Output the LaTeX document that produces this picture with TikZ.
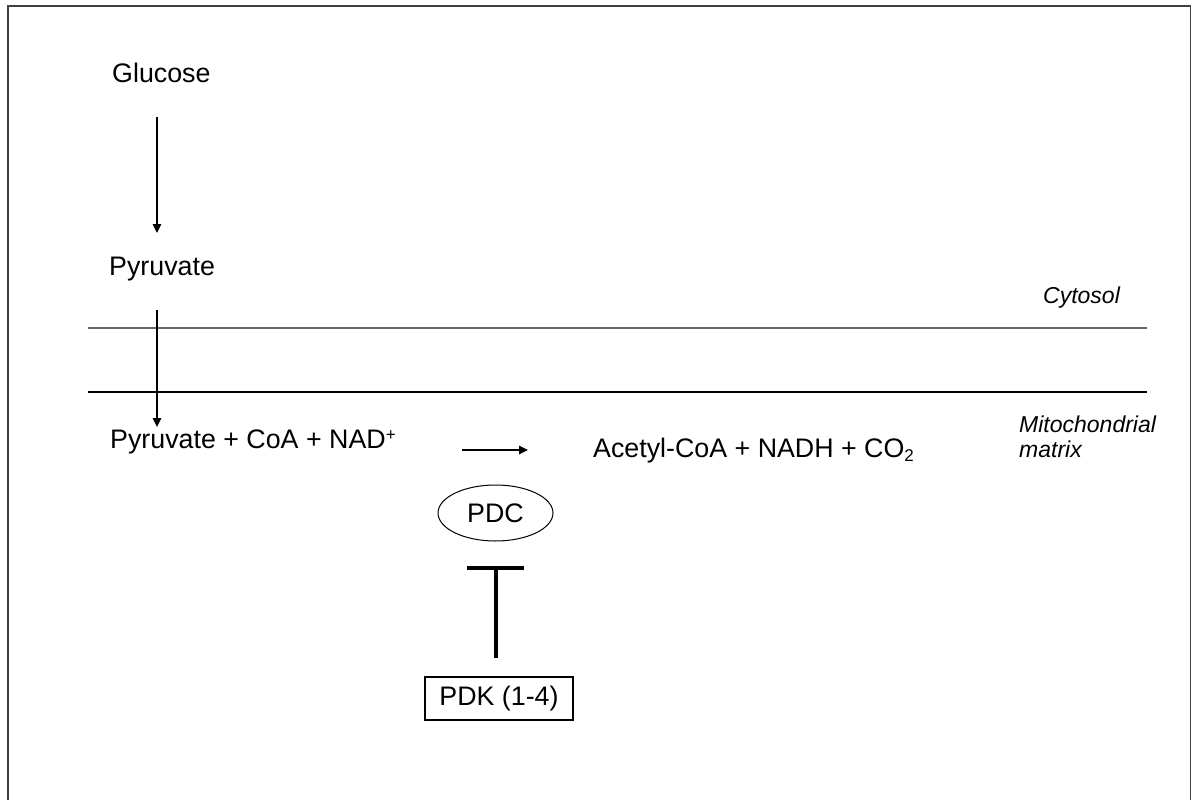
\documentclass[tikz,border=0pt]{standalone}
\usepackage{fontspec}
\setmainfont{Liberation Sans}
\usetikzlibrary{arrows.meta,shapes.geometric}
\newcommand{\mysup}[1]{\raisebox{0.55ex}{\fontsize{17}{17}\selectfont #1}}
\newcommand{\mysub}[1]{\raisebox{-0.35ex}{\fontsize{17}{17}\selectfont #1}}
\tikzset{
  lbl/.style={inner sep=0pt, anchor=base west, font=\fontsize{26.8}{28}\selectfont},
  ital/.style={inner sep=0pt, anchor=base west, font=\fontsize{23}{25}\selectfont\itshape},
  flow/.style={line width=1.2pt, -{Triangle[length=9pt,width=8.5pt]}},
  membrane/.style={line width=1.1pt},
  inhib/.style={line width=4.6pt},
}
\begin{document}
\begin{tikzpicture}[x=1pt,y=-1pt]
\useasboundingbox (0,0) rectangle (1192,800);
% frame
\draw[line width=1.6pt, black!75] (8,801) -- (8,6) -- (1190.5,6) -- (1190.5,801);

% membrane lines
\draw[membrane, black!60] (88,328) -- (1147,328);
\draw[membrane, black] (88,392) -- (1147,392);

% texts
\node[lbl] (glu) at (112,83) {Glucose};
\node[lbl] (pyr) at (109,275) {Pyruvate};
\node[lbl] (subs) at (110,448) {Pyruvate + CoA + NAD\mysup{+}};
\node[lbl] (prod) at (593,457) {Acetyl-CoA + NADH + CO\mysub{2}};
\node[ital] (cyt) at (1043,303) {Cytosol};
\node[ital] (mito) at (1019,432) {Mitochondrial};
\node[ital] (mat) at (1019,457) {matrix};

\node[draw, ellipse, line width=1pt, minimum width=115pt, minimum height=56pt, inner sep=0pt,
      font=\fontsize{26.8}{28}\selectfont] (pdc) at (495.5,513) {PDC};
\node[draw, rectangle, line width=1.1pt, minimum width=148pt, minimum height=43pt, inner sep=0pt,
      font=\fontsize{26.8}{28}\selectfont] (pdk) at (499,698.5) {PDK (1-4)};

% connectors
\coordinate (a1s) at (157,117);
\coordinate (a1e) at (157,233);
\draw[flow] (a1s) -- (a1e);
\coordinate (a2s) at (157,310);
\coordinate (a2e) at (157,427);
\draw[flow] (a2s) -- (a2e);
\coordinate (rxs) at (462,450);
\coordinate (rxe) at (528,450);
\draw[flow] (rxs) -- (rxe);

% inhibition
\coordinate (inhS) at (496,658);
\coordinate (inhE) at (496,568);
\draw[inhib] (inhS) -- (inhE);
\draw[inhib] ([xshift=-29pt]inhE) -- ([xshift=28pt]inhE);
\end{tikzpicture}
\end{document}
